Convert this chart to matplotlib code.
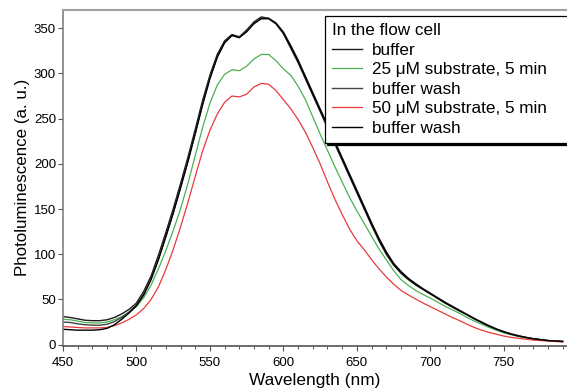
import matplotlib
matplotlib.use('Agg')
import matplotlib.pyplot as plt

plt.rcParams['font.family'] = ['Liberation Sans', 'DejaVu Sans']

# wavelength grid (nm)
wavelength = [450, 455, 460, 465, 470, 475, 480, 485, 490, 495, 500,
              505, 510, 515, 520, 525, 530, 535, 540, 545, 550,
              555, 560, 565, 570, 575, 580, 585, 590, 595, 600,
              605, 610, 615, 620, 625, 630, 635, 640, 645, 650,
              655, 660, 665, 670, 675, 680, 685, 690, 695, 700,
              705, 710, 715, 720, 725, 730, 735, 740, 745, 750,
              755, 760, 765, 770, 775, 780, 785, 790]

buffer = [31, 30, 28.5, 27, 26.5, 26.5, 27.5, 30, 34, 39, 46,
          59, 76, 99, 124, 150, 178, 207, 238, 270, 298,
          321, 336, 343, 340.5, 348, 357, 362.5, 361, 355, 344,
          328, 312, 294, 276, 258, 240, 222, 204, 186, 168,
          150, 132, 115, 100, 88, 79, 72, 66, 61, 56,
          51, 46, 41.5, 37, 33, 28.5, 24.5, 20.5, 17, 14,
          11.5, 9.5, 8, 6.5, 5.5, 4.5, 4, 3.5]

sub25 = [28, 27.5, 26, 24.5, 24, 24, 25, 27.5, 31, 36, 42,
         52, 66, 84, 104, 126, 150, 178, 209, 240, 267,
         287, 299, 304, 303, 308, 316, 321, 321, 314, 305,
         298, 286, 271, 252, 233, 215, 197, 180, 163, 148,
         134, 120, 106, 94, 82, 72, 65.5, 60, 55.5, 51.5,
         47, 42.5, 38.5, 34.5, 30, 26, 22.5, 19, 16, 13,
         11, 9, 7.5, 6.5, 5.5, 4.5, 4, 3.5]

wash1 = [25, 24.5, 23, 22, 21.5, 21.5, 22.5, 25.5, 30, 36, 44,
         56, 73, 95, 120, 146, 174, 203, 234, 266, 295,
         318, 334, 342, 340, 347, 356, 361, 361, 356, 346,
         331, 315, 297, 279, 261, 243, 225, 207, 189, 171,
         153, 135, 118, 103, 90, 81, 73.5, 67.5, 62, 57,
         52, 47, 42.5, 38, 33.5, 29, 25, 21, 17.5, 14.5,
         12, 10, 8, 6.5, 5.5, 4.5, 4, 3.5]

sub50 = [20, 19.5, 19, 18.5, 18.5, 18.5, 19, 21, 24, 28, 33,
         40, 50, 64, 83, 105, 130, 157, 186, 214, 237,
         255, 268, 275, 274, 277, 285, 289, 288, 281, 271,
         261, 249, 235, 218, 200, 180, 161, 144, 128, 115,
         105, 94, 84, 75, 67, 60, 55, 50.5, 46, 42,
         38, 34, 30, 26.5, 22.5, 19, 16, 13.5, 11.5, 9.5,
         8, 7, 6, 5, 4.5, 4, 3.5, 3]

wash2 = [17, 16.5, 16, 16, 16, 16.5, 18, 22, 28, 35, 43,
         55, 72, 94, 119, 145, 173, 202, 233, 265, 294,
         318, 334, 342, 339.5, 346, 355, 360.5, 360.5, 355, 345,
         330, 314, 296, 278, 260, 242, 224, 206, 188, 170,
         152, 134, 117, 102, 89.5, 80.5, 73, 67, 61.5, 56.5,
         51.5, 46.5, 42, 37.5, 33, 28.5, 24.5, 20.5, 17, 14,
         11.5, 9.5, 8, 6.5, 5.5, 4.5, 4, 3.5]

labels = ['buffer', '25 \u03bcM substrate, 5 min', 'buffer wash',
          '50 \u03bcM substrate, 5 min', 'buffer wash']

fig = plt.figure(figsize=(5.67, 3.9), dpi=100)
ax = fig.add_axes([0.111, 0.114, 0.889, 0.860])

ax.plot(wavelength, buffer, color='#1a1a1a', lw=1.0, label=labels[0])
ax.plot(wavelength, sub25, color='#4cb050', lw=0.9, label=labels[1])
ax.plot(wavelength, wash1, color='#444444', lw=1.0, label=labels[2])
ax.plot(wavelength, sub50, color='#e83a3a', lw=0.9, label=labels[3])
ax.plot(wavelength, wash2, color='#000000', lw=1.0, label=labels[4])

ax.set_xlim(450, 793)
ax.set_ylim(-1, 370)
ax.set_xticks([450, 500, 550, 600, 650, 700, 750])
ax.set_xticks(range(460, 800, 10), minor=True)
ax.set_yticks([0, 50, 100, 150, 200, 250, 300, 350])

ax.spines['right'].set_visible(False)
ax.spines['top'].set_color('#a0a0a0')
ax.spines['top'].set_linewidth(1.5)
ax.spines['left'].set_color('#808080')
ax.spines['left'].set_linewidth(1.2)
ax.spines['bottom'].set_color('#555555')
ax.spines['bottom'].set_linewidth(1.2)

ax.tick_params(axis='both', which='major', direction='out', length=3.5,
               width=0.8, color='#555555', labelsize=9.5, pad=1.5)
ax.tick_params(axis='x', which='major', pad=4.5)
ax.tick_params(axis='x', which='minor', direction='out', length=2.2,
               width=0.7, color='#555555')
ax.tick_params(axis='y', which='minor', left=False)

ax.set_xlabel('Wavelength (nm)', fontsize=12.4, labelpad=3)
ax.set_ylabel('Photoluminescence (a. u.)', fontsize=12.2, labelpad=3)

leg = ax.legend(title='In the flow cell', loc='upper left',
                bbox_to_anchor=(0.519, 0.0, 0.5, 0.982), mode='expand',
                fontsize=12.3, title_fontsize=12.3, alignment='left',
                frameon=True, fancybox=False, edgecolor='black',
                framealpha=1, handlelength=1.75, handletextpad=0.6,
                labelspacing=0.26, borderpad=0.42, borderaxespad=0,
                shadow={'color': 'black', 'alpha': 1, 'ox': 1.5, 'oy': -1.5})
leg.get_frame().set_linewidth(0.9)
leg.get_title().set_ha('left')

fig.savefig('out.png', dpi=100)
